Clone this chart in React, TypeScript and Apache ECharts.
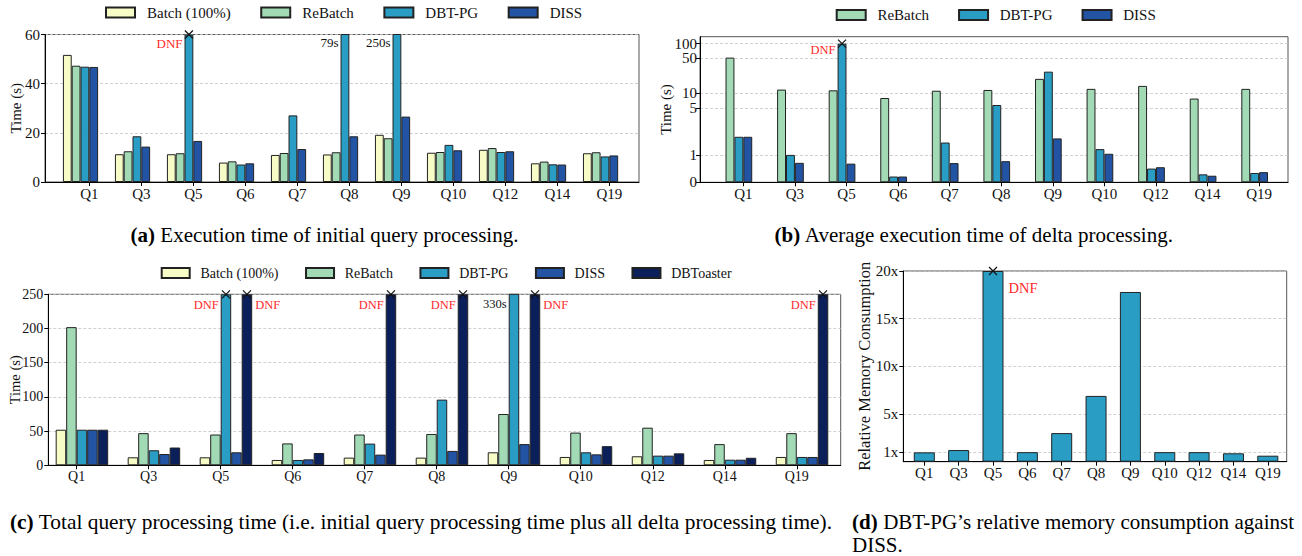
import React, { useEffect, useRef } from 'react';
import * as echarts from 'echarts';

type Val = number | 'DNF';

const categories = ['Q1', 'Q3', 'Q5', 'Q6', 'Q7', 'Q8', 'Q9', 'Q10', 'Q12', 'Q14', 'Q19'];

// (a) Execution time of initial query processing (s)
const initBatch: Val[] = [51.7, 11.3, 11.3, 7.9, 11.0, 11.2, 19.2, 11.9, 13.1, 7.6, 11.7];
const initRebatch: Val[] = [47.3, 12.5, 11.7, 8.4, 11.8, 12.1, 17.8, 12.2, 13.8, 8.3, 12.1];
const initDbtpg: Val[] = [46.9, 18.6, 'DNF', 7.1, 27.1, 79, 250, 15.1, 12.2, 7.2, 10.4];
const initDiss: Val[] = [46.8, 14.4, 16.7, 7.6, 13.4, 18.6, 26.6, 12.9, 12.5, 7.1, 10.8];
const initYMax = 60;

// (b) Average execution time of delta processing (s), symlog axis
const deltaRebatch: Val[] = [52, 11.7, 11.3, 7.9, 11.1, 11.5, 19.3, 12.1, 13.9, 7.7, 12.1];
const deltaDbtpg: Val[] = [1.66, 1.0, 'DNF', 0.21, 1.45, 5.7, 27, 1.21, 0.5, 0.29, 0.34];
const deltaDiss: Val[] = [1.66, 0.71, 0.68, 0.21, 0.7, 0.77, 1.6, 1.04, 0.55, 0.24, 0.37];
const deltaTicks = [0, 1, 5, 10, 50, 100];
const deltaYMax = 138;
const deltaDnfCap = 100;

// (c) Total query processing time (s)
const totalBatch: Val[] = [52, 11.7, 11.7, 7.8, 11.2, 11.2, 19, 12.2, 13.2, 7.8, 12.2];
const totalRebatch: Val[] = [202, 47, 45, 32, 45, 45.8, 75, 47.8, 55, 31, 47];
const totalDbtpg: Val[] = [52, 22, 'DNF', 7.8, 31.7, 96, 330, 19, 14.1, 8.2, 12.2];
const totalDiss: Val[] = [52, 16.5, 19, 8.7, 15.6, 21, 31, 16, 14.1, 8.2, 12.2];
const totalDbtoaster: Val[] = [52, 26, 'DNF', 18, 'DNF', 'DNF', 'DNF', 28, 17.5, 11, 'DNF'];
const totalYMax = 250;

// (d) DBT-PG relative memory consumption against DISS
const memRatio: Val[] = [0.98, 1.22, 'DNF', 1.0, 3.0, 6.9, 17.8, 1.0, 1.0, 0.88, 0.63];
const memTicks = [1, 5, 10, 15, 20];
const memYMax = 20;

const FONT = 'Liberation Serif';
const RED = '#ff2b2b';
const C = {
  batch: '#f7fcc6',
  rebatch: '#a1dab4',
  dbtpg: '#2a9dc4',
  diss: '#2353a3',
  dbtoaster: '#0b1f5b',
};
const X_PATH = 'path://M0 0L10 10M10 0L0 10';

// matplotlib-style symlog: linthresh 2, linscale 1, base 10
const LINTHRESH = 2;
const LINSCALE_ADJ = 1 / (1 - 1 / 10);
const symlog = (v: number) =>
  v <= LINTHRESH ? (v / LINTHRESH) * LINSCALE_ADJ : LINSCALE_ADJ + Math.log10(v / LINTHRESH);

type Panel = {
  idx: number;
  bw: number;
  cap: number;
  axisMax: number;
  tf: (v: number) => number;
  fontSize: number;
  dy: number;
  dxRight: number;
  unit: string;
  side: (name: string, i: number) => 'left' | 'right';
};

const over = (v: Val, max: number) => v === 'DNF' || (v as number) > max;

function annot(text: string, color: string, side: 'left' | 'right', p: Panel) {
  return {
    show: true,
    formatter: text,
    color,
    fontSize: p.fontSize,
    fontFamily: FONT,
    position: side === 'left' ? [-2, p.dy] : ['100%', p.dy],
    offset: side === 'left' ? [0, 0] : [p.dxRight, 0],
    align: side === 'left' ? 'right' : 'left',
    verticalAlign: 'top',
  };
}

function bar(name: string, values: Val[], color: string, p: Panel) {
  const data = values.map((v, i) => {
    if (v === 'DNF') {
      return { value: [i, p.tf(p.cap)], label: annot('DNF', RED, p.side(name, i), p) };
    }
    if (v > p.axisMax) {
      return { value: [i, p.tf(v)], label: annot(`${v}${p.unit}`, '#111', p.side(name, i), p) };
    }
    return { value: [i, p.tf(v)] };
  });
  const mp = values
    .map((v, i) => (v === 'DNF' ? { coord: [i, p.tf(p.cap)] } : null))
    .filter(Boolean);
  return {
    type: 'bar',
    name,
    xAxisIndex: p.idx,
    yAxisIndex: p.idx,
    barWidth: p.bw,
    barGap: '0%',
    clip: true,
    silent: true,
    emphasis: { disabled: true },
    itemStyle: { color, borderColor: '#222', borderWidth: 1 },
    label: { show: false },
    data,
    markPoint: mp.length
      ? {
          symbol: X_PATH,
          symbolSize: 8,
          silent: true,
          label: { show: false },
          itemStyle: { color: 'none', borderColor: '#111', borderWidth: 1.2 },
          data: mp,
        }
      : undefined,
  };
}

function pad(name: string, p: Panel) {
  return {
    type: 'bar',
    name,
    xAxisIndex: p.idx,
    yAxisIndex: p.idx,
    barWidth: p.bw,
    barGap: '0%',
    silent: true,
    data: categories.map((_, i) => [i, null]),
  };
}

const idxs = categories.map((_, i) => i);

function xAxis(gridIndex: number, min: number, max: number, fontSize: number) {
  return {
    type: 'value',
    gridIndex,
    min,
    max,
    axisLine: { show: true, onZero: false, lineStyle: { color: '#000', width: 1 } },
    axisTick: { show: true, customValues: idxs, length: 4, lineStyle: { color: '#000' } },
    axisLabel: {
      customValues: idxs,
      formatter: (v: number) => categories[Math.round(v)],
      fontFamily: FONT,
      fontSize,
      color: '#111',
      margin: 4,
    },
    splitLine: { show: false },
  };
}

const gridLine = { show: true, lineStyle: { color: '#c4c4c4', type: [3, 2], width: 0.8 } };

function yAxis(gridIndex: number, extra: any, name: string, nameGap: number, fontSize: number, nameSize: number) {
  return {
    type: 'value',
    gridIndex,
    name,
    nameLocation: 'middle',
    nameGap,
    nameMoveOverlap: false,
    nameTextStyle: { fontFamily: FONT, fontSize: nameSize, color: '#111' },
    axisLine: { show: true, onZero: false, lineStyle: { color: '#000', width: 1 } },
    axisTick: { show: true, length: 4, lineStyle: { color: '#000' } },
    splitLine: gridLine,
    ...extra,
    axisLabel: { fontFamily: FONT, fontSize, color: '#111', margin: 5, ...(extra.axisLabel || {}) },
  };
}

function buildOption() {
  const PA: Panel = {
    idx: 0, bw: 8.8, cap: initYMax, axisMax: initYMax, tf: (v) => v, fontSize: 13, dy: 2, dxRight: 3, unit: 's',
    side: () => 'left',
  };
  const PB: Panel = {
    idx: 1, bw: 8.9, cap: deltaDnfCap, axisMax: deltaYMax, tf: symlog, fontSize: 12.5, dy: 0, dxRight: 3, unit: 's',
    side: () => 'left',
  };
  const PC: Panel = {
    idx: 2, bw: 10.5, cap: totalYMax, axisMax: totalYMax, tf: (v) => v, fontSize: 12.5, dy: 4, dxRight: 3, unit: 's',
    side: (name, i) => (name === 'DBToaster' && over(totalDbtpg[i], totalYMax) ? 'right' : 'left'),
  };
  const PD: Panel = {
    idx: 3, bw: 21, cap: memYMax, axisMax: memYMax, tf: (v) => v, fontSize: 14.5, dy: 9, dxRight: 5, unit: 'x',
    side: () => 'right',
  };

  const gridBase = { show: true, borderColor: '#555', borderWidth: 1, backgroundColor: 'transparent', containLabel: false, outerBoundsMode: 'none' };
  const grid = [
    { left: 45, top: 34.5, width: 594, height: 147.5 },
    { left: 700, top: 36.7, width: 588, height: 145.6 },
    { left: 48.3, top: 294.3, width: 792.4, height: 171 },
    { left: 903.3, top: 271, width: 383.4, height: 190.7 },
  ].map((g) => ({ ...gridBase, ...g }));

  const xAxes = [
    xAxis(0, -0.852, 10.57, 15),
    xAxis(1, -0.84, 10.56, 15),
    xAxis(2, -0.394, 10.61, 14),
    xAxis(3, -0.611, 10.55, 15),
  ];

  const deltaTickT = deltaTicks.map(symlog);
  const yAxes = [
    yAxis(0, { min: 0, max: initYMax, interval: 20 }, 'Time (s)', 22, 15, 15),
    yAxis(1, {
      min: 0,
      max: symlog(deltaYMax),
      axisTick: { show: true, length: 4, customValues: deltaTickT, lineStyle: { color: '#000' } },
      axisLabel: {
        customValues: deltaTickT,
        margin: 3,
        formatter: (v: number) => {
          const k = deltaTickT.findIndex((t) => Math.abs(t - v) < 1e-6);
          return k >= 0 ? String(deltaTicks[k]) : '';
        },
      },
    }, 'Time (s)', 27, 15, 15),
    yAxis(2, { min: 0, max: totalYMax, interval: 50 }, 'Time (s)', 26, 14, 14.5),
    yAxis(3, {
      min: 0,
      max: memYMax,
      axisTick: { show: true, length: 4, customValues: memTicks, lineStyle: { color: '#000' } },
      axisLabel: { customValues: memTicks, formatter: (v: number) => `${v}x` },
    }, 'Relative Memory Consumption', 30, 15, 16.5),
  ];

  const series: any[] = [
    bar('Batch (100%)', initBatch, C.batch, PA),
    bar('ReBatch', initRebatch, C.rebatch, PA),
    bar('DBT-PG', initDbtpg, C.dbtpg, PA),
    bar('DISS', initDiss, C.diss, PA),
    pad('_padA1', PA),
    pad('_padA2', PA),

    bar('ReBatch', deltaRebatch, C.rebatch, PB),
    bar('DBT-PG', deltaDbtpg, C.dbtpg, PB),
    bar('DISS', deltaDiss, C.diss, PB),
    pad('_padB1', PB),

    pad('_padC1', PC),
    bar('Batch (100%)', totalBatch, C.batch, PC),
    bar('ReBatch', totalRebatch, C.rebatch, PC),
    bar('DBT-PG', totalDbtpg, C.dbtpg, PC),
    bar('DISS', totalDiss, C.diss, PC),
    bar('DBToaster', totalDbtoaster, C.dbtoaster, PC),

    bar('DBT-PG', memRatio, C.dbtpg, PD),
  ];

  const legendBase = {
    orient: 'horizontal',
    padding: 0,
    icon: 'rect',
    itemHeight: 10,
    selectedMode: false,
    formatter: (name: string) => `{s|}${name}`,
  };
  const legendText = (fontSize: number, spacer: number) => ({
    fontFamily: FONT,
    fontSize,
    color: '#111',
    rich: { s: { width: spacer, fontSize } },
  });
  const legend = [
    {
      ...legendBase, left: 105, top: 5, itemWidth: 29, itemGap: 29.5,
      data: ['Batch (100%)', 'ReBatch', 'DBT-PG', 'DISS'],
      textStyle: legendText(15, 7),
    },
    {
      ...legendBase, left: 835.7, top: 7.5, itemWidth: 29, itemGap: 29,
      data: ['ReBatch', 'DBT-PG', 'DISS'],
      textStyle: legendText(15, 6.7),
    },
    {
      ...legendBase, left: 160.7, top: 266, itemWidth: 28, itemGap: 26.5,
      data: ['Batch (100%)', 'ReBatch', 'DBT-PG', 'DISS', 'DBToaster'],
      textStyle: legendText(14, 5.7),
    },
  ];

  // captions
  const capText = (text: string, x: number, y: number, align: string, size = 21) => ({
    type: 'text',
    x,
    y,
    silent: true,
    style: {
      text,
      fill: '#000',
      fontFamily: FONT,
      fontSize: size,
      align,
      verticalAlign: 'middle',
      textAlign: align,
      textVerticalAlign: 'middle',
      rich: { b: { fontWeight: 'bold', fontFamily: FONT, fontSize: size, fill: '#000' } },
    },
  });

  // justified first line of caption (d)
  const CAP = 21;
  const dWords = ['(d)', 'DBT-PG\u2019s', 'relative', 'memory', 'consumption', 'against'];
  const ctx = document.createElement('canvas').getContext('2d')!;
  const widths = dWords.map((w, k) => {
    ctx.font = `${k === 0 ? 'bold ' : ''}${CAP}px "${FONT}"`;
    return ctx.measureText(w).width;
  });
  const lineL = 852;
  const lineR = 1294;
  const gap = (lineR - lineL - widths.reduce((a, b) => a + b, 0)) / (dWords.length - 1);
  let cx = lineL;
  const dLine = dWords.map((w, k) => {
    const el = capText(k === 0 ? `{b|${w}}` : w, cx, 522, 'left', CAP);
    cx += widths[k] + gap;
    return el;
  });

  const graphic = [
    capText('{b|(a)} Execution time of initial query processing.', 324.5, 235, 'center'),
    capText('{b|(b)} Average execution time of delta processing.', 974, 235, 'center'),
    capText('{b|(c)} Total query processing time (i.e. initial query processing time plus all delta processing time).', 10, 522, 'left', 21.4),
    ...dLine,
    capText('DISS.', 852, 545, 'left', CAP),
  ];

  return {
    animation: false,
    backgroundColor: '#fff',
    textStyle: { fontFamily: FONT },
    grid,
    xAxis: xAxes,
    yAxis: yAxes,
    legend,
    series,
    graphic,
  };
}

export default function App() {
  const ref = useRef<HTMLDivElement>(null);
  useEffect(() => {
    const chart = echarts.init(ref.current!, null, { renderer: 'svg' });
    chart.setOption(buildOption() as any);
    return () => chart.dispose();
  }, []);
  return (
    <div
      ref={ref}
      style={{ position: 'fixed', left: 0, top: 0, width: 1302, height: 556, background: '#fff' }}
    />
  );
}
